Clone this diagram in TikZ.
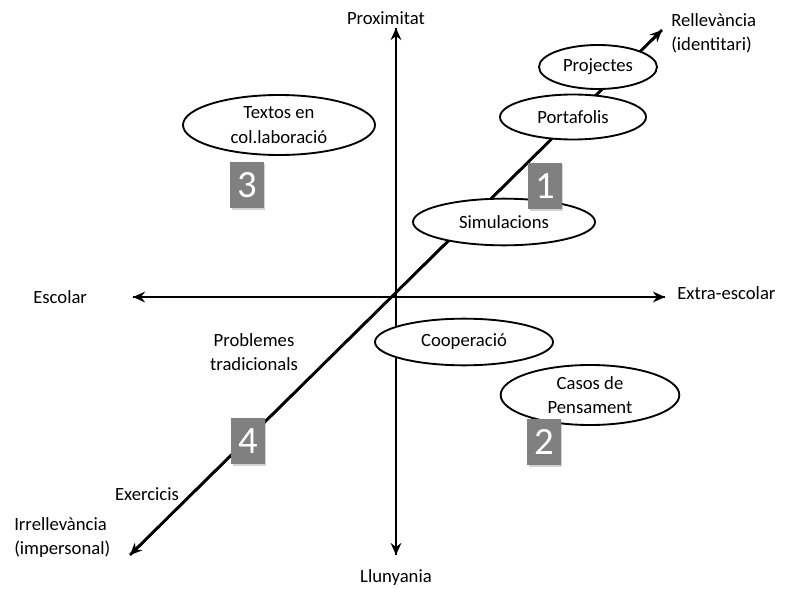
\documentclass[tikz,border=0pt]{standalone}
\usepackage{fontspec}
\setmainfont{Carlito}
\usetikzlibrary{arrows.meta,shapes.geometric,shadows}

\begin{document}
\begin{tikzpicture}[x=0.75pt,y=-0.75pt,
  lbl/.style={font=\fontsize{14}{18.5}\selectfont, inner sep=0pt},
  bubble/.style={ellipse, draw, line width=1.4pt, fill=white, inner sep=0pt, align=center, font=\fontsize{14}{18.5}\selectfont},
  quad/.style={fill=gray, text=white, minimum width=25pt, minimum height=34.5pt, inner sep=0pt, font=\fontsize{29}{29}\selectfont, drop shadow={shadow xshift=1pt, shadow yshift=-1.5pt, opacity=0.35}},
  axis/.style={line width=2pt, -{Stealth[length=9pt, width=8pt]}}]
\useasboundingbox (0,0) rectangle (804,589);
% ends of the axes
\coordinate (top) at (396,28);
\coordinate (bot) at (396,555);
\coordinate (lft) at (133,297);
\coordinate (rgt) at (665,297);
\coordinate (ne) at (662,30);
\coordinate (sw) at (130,555);
\draw[axis] (bot) -- (top);
\draw[axis] (top) -- (bot);
\draw[axis] (rgt) -- (lft);
\draw[axis] (lft) -- (rgt);
\draw[axis] (ne) -- (sw);
\draw[axis] (sw) -- (ne);
% axis labels
\node[lbl] (prox) at (386,18) {Proximitat};
\node[lbl] (llun) at (396,578) {Llunyania};
\node[lbl, anchor=west] (esc) at (33,297) {Escolar};
\node[lbl, anchor=west] (extra) at (677,293) {Extra-escolar};
\node[lbl, anchor=north west, align=left] (rell) at (671,13) {Rellevància\\(identitari)};
\node[lbl, anchor=north west, align=left] (irrel) at (14,517) {Irrellevància\\(impersonal)};
\node[lbl] (exer) at (147,494) {Exercicis};
\node[lbl, align=center] (probl) at (254,352) {Problemes\\tradicionals};
% bubbles
\node[bubble, minimum width=88.5pt, minimum height=33pt] (proj) at (598,67) {Projectes};
\node[bubble, minimum width=109.5pt, minimum height=33.75pt] (port) at (573,117) {Portafolis};
\node[bubble, minimum width=144pt, minimum height=45pt] (text) at (279,125) {Textos en\\col.laboració};
\node[bubble, minimum width=136.5pt, minimum height=35pt] (simu) at (504,222) {Simulacions};
\node[bubble, minimum width=133.5pt, minimum height=35pt] (coop) at (464,342) {Cooperació};
\node[bubble, minimum width=134pt, minimum height=45pt] (casos) at (590,395) {Casos de\\Pensament};
% quadrant numbers
\node[quad] (q1) at (545,186) {1};
\node[quad] (q2) at (544,442) {2};
\node[quad] (q3) at (247,185) {3};
\node[quad] (q4) at (248,441) {4};
\end{tikzpicture}
\end{document}
